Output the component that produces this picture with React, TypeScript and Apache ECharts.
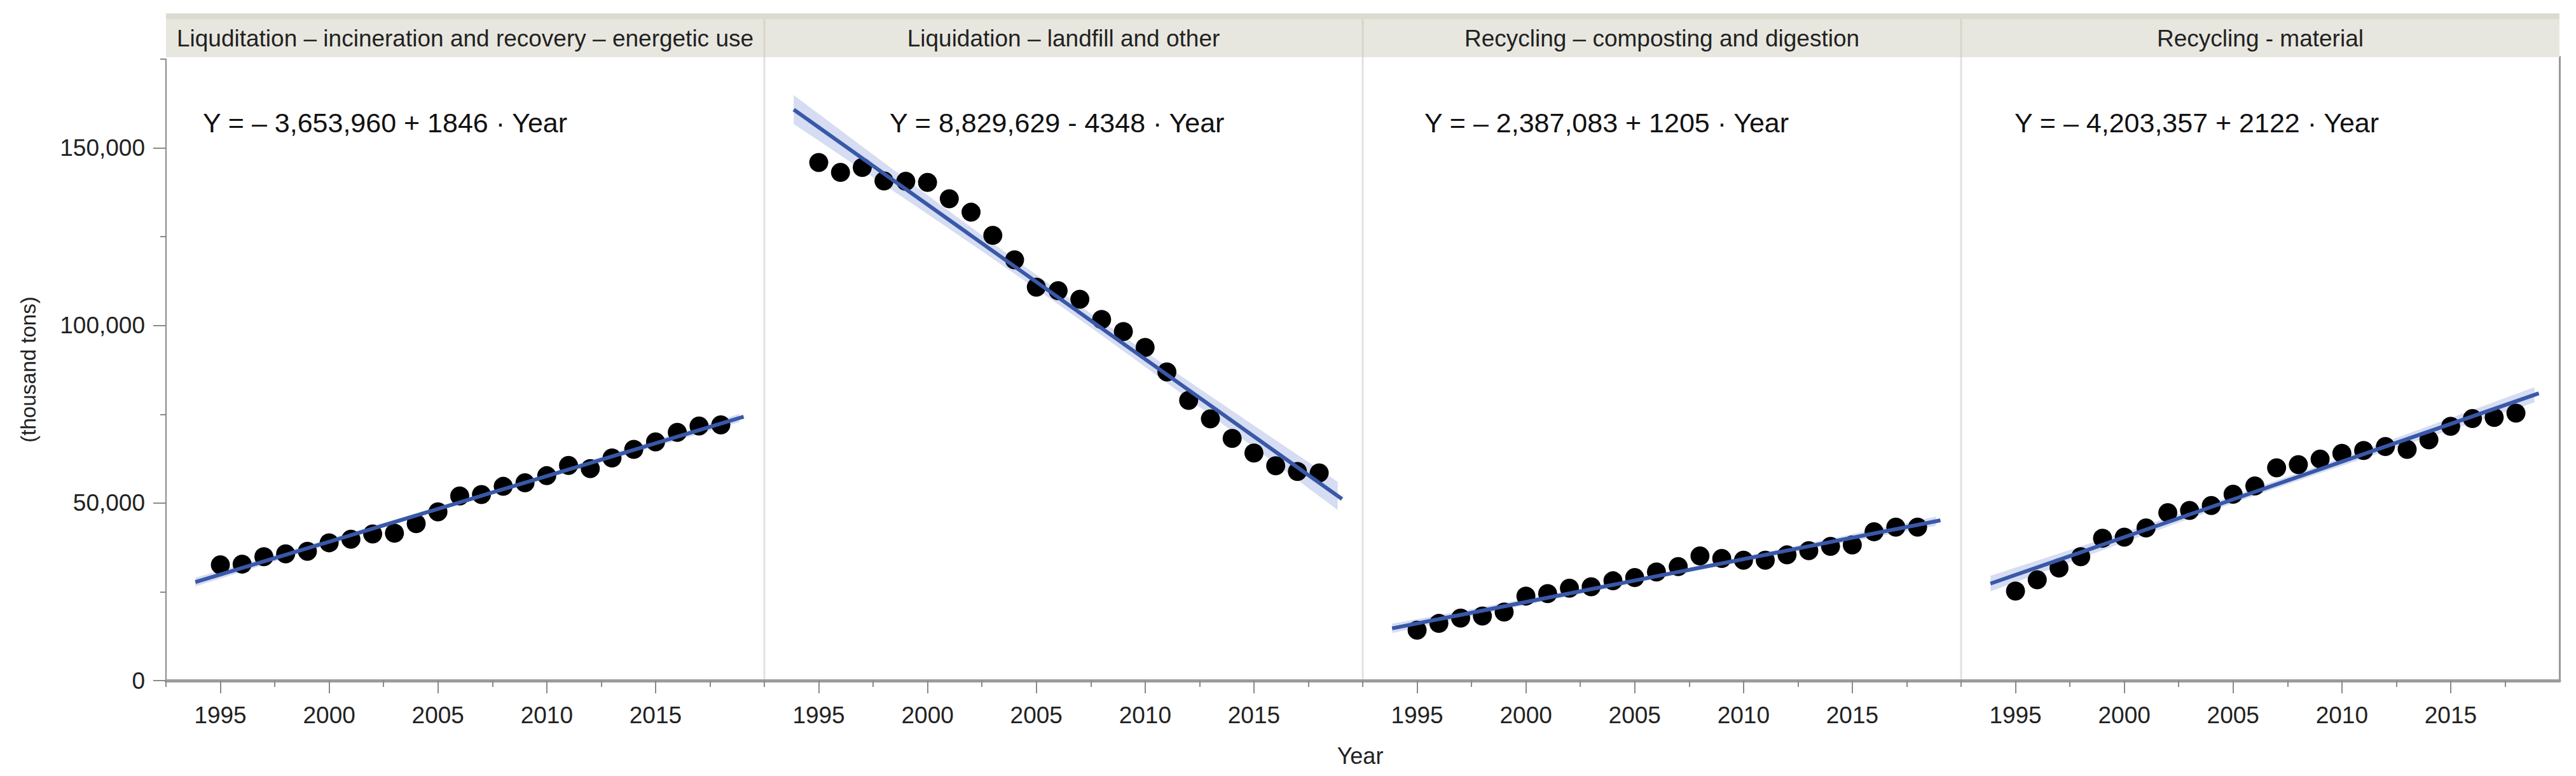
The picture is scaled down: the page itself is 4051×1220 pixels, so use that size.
import React, { useEffect, useRef } from 'react';
import * as echarts from 'echarts';

// ---------------- data ----------------
const years = [1995, 1996, 1997, 1998, 1999, 2000, 2001, 2002, 2003, 2004, 2005, 2006,
  2007, 2008, 2009, 2010, 2011, 2012, 2013, 2014, 2015, 2016, 2017, 2018];

const panelTitles = [
  'Liquditation – incineration and recovery – energetic use',
  'Liquidation – landfill and other',
  'Recycling – composting and digestion',
  'Recycling - material',
];

const equations = [
  'Y = – 3,653,960 + 1846 · Year',
  'Y = 8,829,629 - 4348 · Year',
  'Y = – 2,387,083 + 1205 · Year',
  'Y = – 4,203,357 + 2122 · Year',
];

const incineration = [32600, 32800, 34900, 35700, 36400, 38800, 39800, 41300, 41500, 44200, 47500, 52000,
  52400, 54700, 55700, 57700, 60600, 59700, 62700, 65100, 67200, 69900, 71700, 72000];

const landfill = [145900, 143100, 144500, 140700, 140600, 140300, 135700, 131900, 125400, 118500, 110800, 109800,
  107400, 101700, 98300, 93800, 86900, 78900, 73700, 68200, 64100, 60500, 58900, 58500];

const composting = [14200, 16100, 17600, 18200, 19300, 23800, 24500, 26000, 26400, 28100, 29000, 30600,
  32100, 35100, 34400, 33900, 33900, 35400, 36600, 37800, 38200, 41900, 43200, 43200];

const material = [25200, 28400, 31700, 34900, 40100, 40400, 43000, 47300, 47900, 49300, 52500, 54800,
  59900, 60800, 62400, 64000, 64800, 65900, 65100, 67800, 71600, 73800, 74100, 75300];

const panelValues = [incineration, landfill, composting, material];

const yLabelValues = [0, 50000, 100000, 150000];
const yMinorValues = [25000, 75000, 125000, 175000];
const xLabelValues = [1995, 2000, 2005, 2010, 2015];
const xMinorValues = [1992.5, 1997.5, 2002.5, 2007.5, 2012.5, 2017.5];

// ---------------- layout / style ----------------
const FONT = '"Liberation Sans", Arial, sans-serif';
const GRID_LEFTS = [261, 1202, 2143, 3084];
const GRID_W = 941;
const GRID_TOP = 93;
const GRID_H = 977;
const X_MIN = 1992.5;
const X_MAX = 2020;
const Y_MAX = 175000;
const LINE_START = 1993.85;
const LINE_END = 2019.05;
const T_CRIT = 2.074;
const EQ_X = [319, 1399, 2240, 3168];
const LINE_COLOR = '#3958a8';
const BAND_COLOR = 'rgba(95, 125, 205, 0.26)';

function fitStats(xs: number[], ys: number[]) {
  const n = xs.length;
  const mx = xs.reduce((a, b) => a + b, 0) / n;
  const my = ys.reduce((a, b) => a + b, 0) / n;
  let sxx = 0;
  let sxy = 0;
  for (let i = 0; i < n; i++) {
    sxx += (xs[i] - mx) * (xs[i] - mx);
    sxy += (xs[i] - mx) * (ys[i] - my);
  }
  const b = sxy / sxx;
  const a = my - b * mx;
  let sse = 0;
  for (let i = 0; i < n; i++) {
    const r = ys[i] - (a + b * xs[i]);
    sse += r * r;
  }
  const s = Math.sqrt(sse / (n - 2));
  const pred = (x: number) => a + b * x;
  const half = (x: number) => T_CRIT * s * Math.sqrt(1 / n + ((x - mx) * (x - mx)) / sxx);
  return { pred, half };
}

export default function App() {
  const ref = useRef<HTMLDivElement>(null);

  useEffect(() => {
    if (!ref.current) return;
    const chart = echarts.init(ref.current, null, { renderer: 'svg' });

    const bandXs: number[] = [];
    for (let x = LINE_START; x <= LINE_END + 1e-9; x += 0.25) bandXs.push(x);

    const xAxes: any[] = [];
    const yAxes: any[] = [];
    const series: any[] = [];

    panelValues.forEach((vals, i) => {
      const st = fitStats(years, vals);
      xAxes.push({
        type: 'value', gridIndex: i, min: X_MIN, max: X_MAX, interval: 2.5, position: 'bottom',
        axisLine: { show: true, onZero: false, lineStyle: { color: '#9c9c9c', width: 5 } },
        axisTick: { show: true, customValues: xLabelValues, length: 20, lineStyle: { color: '#8a8a8a', width: 2 } },
        axisLabel: {
          show: true, customValues: xLabelValues, fontSize: 37, margin: 36, color: '#222', fontFamily: FONT,
          formatter: (v: number) => String(v),
        },
        splitLine: { show: false },
      });
      xAxes.push({
        type: 'value', gridIndex: i, min: X_MIN, max: X_MAX, interval: 2.5, position: 'bottom', offset: 0,
        axisLine: { show: false, onZero: false },
        axisTick: { show: true, customValues: xMinorValues, length: 10, lineStyle: { color: '#8a8a8a', width: 2 } },
        axisLabel: { show: false },
        splitLine: { show: false },
      });
      const showY = i === 0;
      yAxes.push({
        type: 'value', gridIndex: i, min: 0, max: Y_MAX, interval: 25000, show: showY, position: 'left',
        axisLine: { show: true, onZero: false, lineStyle: { color: '#8a8a8a', width: 2 } },
        axisTick: { show: true, customValues: yLabelValues, length: 20, lineStyle: { color: '#8a8a8a', width: 2 } },
        axisLabel: {
          show: true, customValues: yLabelValues, fontSize: 37, margin: 33, color: '#222', fontFamily: FONT,
          formatter: (v: number) => v.toLocaleString('en-US'),
        },
        splitLine: { show: false },
      });
      yAxes.push({
        type: 'value', gridIndex: i, min: 0, max: Y_MAX, interval: 25000, show: showY, position: 'left', offset: 0,
        axisLine: { show: false, onZero: false },
        axisTick: { show: true, customValues: yMinorValues, length: 9, lineStyle: { color: '#8a8a8a', width: 2 } },
        axisLabel: { show: false },
        splitLine: { show: false },
      });

      const xi = i * 2;
      const yi = i * 2;

      series.push({
        type: 'custom', xAxisIndex: xi, yAxisIndex: yi, silent: true, z: 1,
        data: [[2006, 50000]],
        renderItem: (_p: any, api: any) => {
          const upper = bandXs.map((x) => api.coord([x, st.pred(x) + st.half(x)]));
          const lower = bandXs.map((x) => api.coord([x, st.pred(x) - st.half(x)])).reverse();
          return { type: 'polygon', shape: { points: upper.concat(lower) }, style: { fill: BAND_COLOR } };
        },
      });
      series.push({
        type: 'scatter', xAxisIndex: xi, yAxisIndex: yi, z: 2,
        symbol: 'circle', symbolSize: 30,
        itemStyle: { color: '#000', opacity: 1 },
        data: years.map((y, k) => [y, vals[k]]),
      });
      series.push({
        type: 'line', xAxisIndex: xi, yAxisIndex: yi, z: 3, silent: true,
        symbol: 'none',
        lineStyle: { color: LINE_COLOR, width: 6 },
        data: [[LINE_START, st.pred(LINE_START)], [LINE_END, st.pred(LINE_END)]],
      });
    });

    const graphic: any[] = [];
    [1202, 2143, 3084].forEach((x) => {
      graphic.push({ type: 'rect', shape: { x: x - 1.5, y: 88, width: 3, height: 982 }, style: { fill: '#e2e2e2' }, silent: true, z: 0 });
    });
    graphic.push({ type: 'rect', shape: { x: 4024, y: 88, width: 3, height: 984 }, style: { fill: '#9a9a9a' }, silent: true });
    GRID_LEFTS.forEach((gl, i) => {
      graphic.push({ type: 'rect', shape: { x: gl, y: 21, width: GRID_W, height: 69 }, style: { fill: '#e8e7df' }, silent: true });
      graphic.push({ type: 'rect', shape: { x: gl, y: 21, width: GRID_W, height: 9 }, style: { fill: '#dcdbd0' }, silent: true });
      if (i > 0) {
        graphic.push({ type: 'rect', shape: { x: gl - 1.5, y: 30, width: 3, height: 60 }, style: { fill: '#d6d5ca' }, silent: true });
      }
      graphic.push({
        type: 'text', x: gl + GRID_W / 2, y: 60, silent: true,
        style: { text: panelTitles[i], fontSize: 37, fontFamily: FONT, fill: '#222', textAlign: 'center', textVerticalAlign: 'middle' },
      });
      graphic.push({
        type: 'text', x: EQ_X[i], y: 193, silent: true,
        style: { text: equations[i], fontSize: 43, fontFamily: FONT, fill: '#111', textAlign: 'left', textVerticalAlign: 'middle' },
      });
    });
    graphic.push({
      type: 'text', x: 44, y: 581, rotation: Math.PI / 2, silent: true,
      style: { text: '(thousand tons)', fontSize: 33, fontFamily: FONT, fill: '#222', textAlign: 'center', textVerticalAlign: 'middle' },
    });
    graphic.push({
      type: 'text', x: 2139, y: 1188, silent: true,
      style: { text: 'Year', fontSize: 36, fontFamily: FONT, fill: '#222', textAlign: 'center', textVerticalAlign: 'middle' },
    });

    chart.setOption({
      animation: false,
      backgroundColor: '#ffffff',
      textStyle: { fontFamily: FONT },
      grid: GRID_LEFTS.map((gl) => ({
        left: gl, top: GRID_TOP, width: GRID_W, height: GRID_H, containLabel: false, outerBoundsMode: 'none', show: false,
      })),
      xAxis: xAxes,
      yAxis: yAxes,
      series,
      graphic,
    });

    return () => chart.dispose();
  }, []);

  return <div ref={ref} style={{ position: 'absolute', left: 0, top: 0, width: 4051, height: 1220 }} />;
}
